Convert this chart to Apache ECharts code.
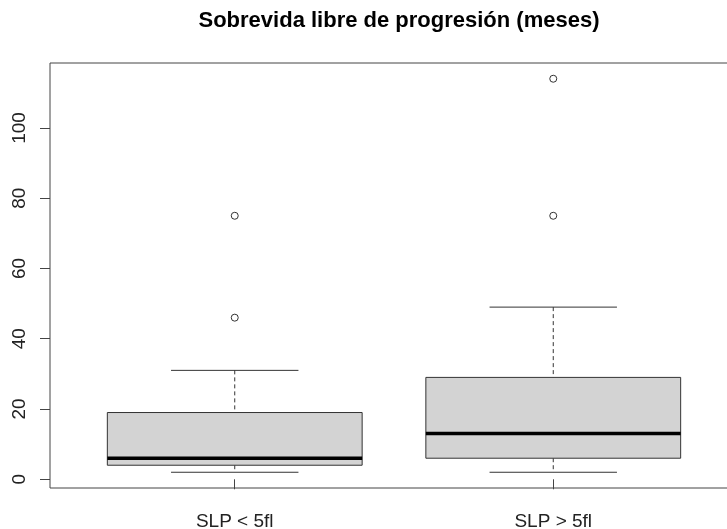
<!DOCTYPE html>
<html>
<head>
<meta charset="utf-8">
<script src="https://cdn.jsdelivr.net/npm/echarts@6/dist/echarts.min.js"></script>
<style>html,body{margin:0;padding:0;background:#fff;}#main{width:727px;height:529px;}</style>
</head>
<body>
<div id="main"></div>
<script>
const categories = ['SLP < 5fl', 'SLP > 5fl'];
const lowerWhisker = [2, 2];
const q1 = [4, 6];
const median = [6, 13];
const q3 = [19, 29];
const upperWhisker = [31, 49];
const outlierGroup = [1, 1, 2, 2];
const outlierValue = [75, 46, 114, 75];
const yTicks = [0, 20, 40, 60, 80, 100];

const boxData = categories.map((c, i) => [i + 1, lowerWhisker[i], q1[i], median[i], q3[i], upperWhisker[i]]);
const outlierData = outlierGroup.map((g, i) => [g, outlierValue[i]]);

const chart = echarts.init(document.getElementById('main'), null, {renderer: 'canvas'});
const FONT = 'Liberation Sans, Arial, sans-serif';
const STROKE = '#333';

function renderBox(params, api) {
  const x = api.value(0);
  const lw = api.value(1), a = api.value(2), m = api.value(3), b = api.value(4), uw = api.value(5);
  const half = 0.4, cap = 0.2;
  const tl = api.coord([x - half, b]);
  const br = api.coord([x + half, a]);
  const mL = api.coord([x - half, m]);
  const mR = api.coord([x + half, m]);
  const cx = api.coord([x, 0])[0];
  const yUW = api.coord([x, uw])[1];
  const yLW = api.coord([x, lw])[1];
  const capL = api.coord([x - cap, 0])[0];
  const capR = api.coord([x + cap, 0])[0];
  const thin = {stroke: STROKE, lineWidth: 1};
  const dashed = {stroke: STROKE, lineWidth: 1, lineDash: [4, 3]};
  return {
    type: 'group',
    children: [
      {type: 'line', shape: {x1: cx, y1: yUW, x2: cx, y2: tl[1]}, style: dashed},
      {type: 'line', shape: {x1: cx, y1: br[1], x2: cx, y2: yLW}, style: dashed},
      {type: 'line', shape: {x1: capL, y1: yUW, x2: capR, y2: yUW}, style: thin},
      {type: 'line', shape: {x1: capL, y1: yLW, x2: capR, y2: yLW}, style: thin},
      {type: 'rect', shape: {x: tl[0], y: tl[1], width: br[0] - tl[0], height: br[1] - tl[1]},
        style: {fill: '#d3d3d3', stroke: STROKE, lineWidth: 1}},
      {type: 'line', shape: {x1: mL[0], y1: mL[1], x2: mR[0], y2: mR[1]}, style: {stroke: '#000', lineWidth: 3.5}}
    ]
  };
}

chart.setOption({
  animation: false,
  backgroundColor: '#fff',
  title: {
    text: 'Sobrevida libre de progresión (meses)',
    left: 394, top: 5, textAlign: 'center',
    textStyle: {fontFamily: FONT, fontWeight: 'bold', fontSize: 22, color: '#000'}
  },
  grid: {left: 50, top: 63, width: 688, height: 425, outerBoundsMode: 'none', containLabel: false,
    show: true, borderColor: '#444', borderWidth: 1, backgroundColor: 'transparent'},
  xAxis: {
    type: 'value', min: 0.42, max: 2.58,
    axisLine: {show: false},
    splitLine: {show: false},
    axisTick: {show: true, length: 10, customValues: [1, 2], lineStyle: {color: '#444'}},
    axisLabel: {show: true, customValues: [1, 2], margin: 24, formatter: v => categories[Math.round(v) - 1],
      fontFamily: FONT, fontSize: 19, color: '#222'}
  },
  yAxis: {
    type: 'value', min: -2.48, max: 118.48,
    axisLine: {show: false},
    splitLine: {show: false},
    axisTick: {show: true, length: 10, customValues: yTicks, lineStyle: {color: '#444'}},
    axisLabel: {show: true, customValues: yTicks, rotate: 90, margin: 21,
      fontFamily: FONT, fontSize: 19, color: '#222'}
  },
  series: [
    {type: 'custom', renderItem: renderBox, data: boxData, encode: {x: 0, y: [1, 2, 3, 4, 5]}, z: 2},
    {type: 'scatter', data: outlierData, symbol: 'circle', symbolSize: 7,
      itemStyle: {color: '#fff', borderColor: STROKE, borderWidth: 1, opacity: 1}, z: 3}
  ]
});
</script>
</body>
</html>
